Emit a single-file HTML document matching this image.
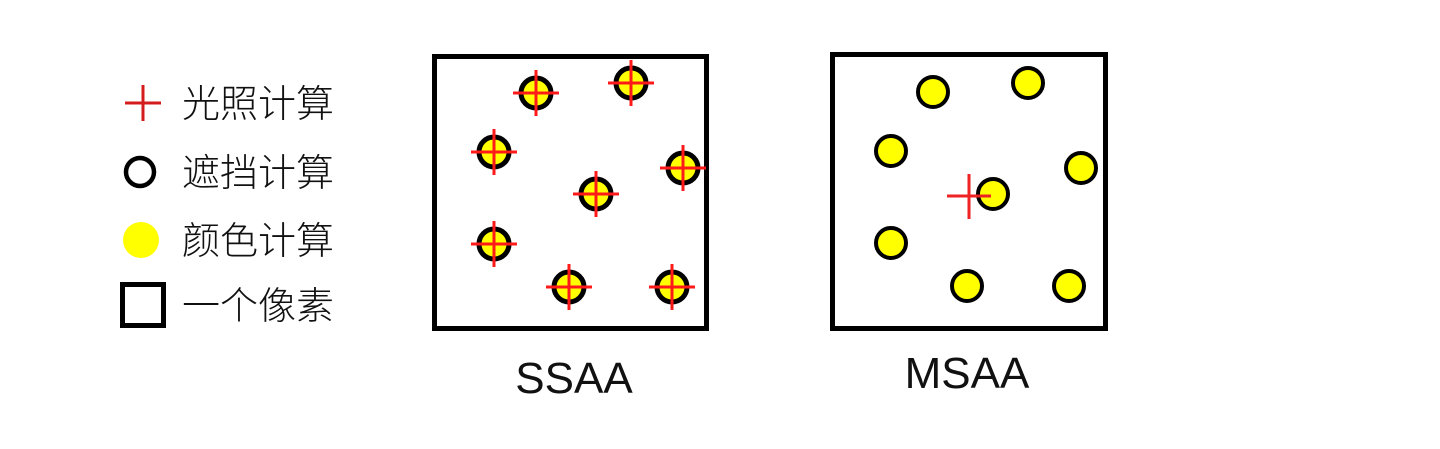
<!DOCTYPE html>
<html><head><meta charset="utf-8"><style>
html,body{margin:0;padding:0;background:#fff;}
svg{display:block}
text{font-family:"Liberation Sans","Noto Sans CJK SC",sans-serif;fill:#111}
</style></head><body>
<svg width="1440" height="449" viewBox="0 0 1440 449" xmlns="http://www.w3.org/2000/svg">
<g stroke="#d41c1c" stroke-width="3"><line x1="125" y1="103" x2="161" y2="103"/><line x1="143" y1="85" x2="143" y2="121"/></g>
<circle cx="140" cy="172" r="14" fill="none" stroke="#000" stroke-width="4.5"/>
<circle cx="141" cy="240" r="18" fill="#ffff00"/>
<rect x="122.5" y="284.5" width="41" height="41" fill="none" stroke="#000" stroke-width="5"/>
<g font-size="38" font-weight="300">
<text x="182" y="117">光照计算</text>
<text x="182" y="186">遮挡计算</text>
<text x="182" y="254">颜色计算</text>
<text x="182" y="319">一个像素</text>
</g>
<rect x="434.5" y="56.5" width="272" height="272" fill="none" stroke="#000" stroke-width="5"/>
<g fill="#ffff00" stroke="#000" stroke-width="5">
<circle cx="536" cy="93" r="15"/><circle cx="631" cy="83" r="15"/><circle cx="494" cy="152" r="15"/><circle cx="683" cy="168" r="15"/><circle cx="596" cy="194" r="15"/><circle cx="494" cy="244" r="15"/><circle cx="569" cy="287" r="15"/><circle cx="672" cy="287" r="15"/>
</g>
<g stroke="#ff1a1a" stroke-width="3">
<path d="M513 93h46M536 70v46M608 83h46M631 60v46M471 152h46M494 129v46M660 168h46M683 145v46M573 194h46M596 171v46M471 244h46M494 221v46M546 287h46M569 264v46M649 287h46M672 264v46"/>
</g>
<text x="574" y="393" font-size="44" text-anchor="middle">SSAA</text>
<rect x="832.5" y="54.5" width="273" height="274" fill="none" stroke="#000" stroke-width="5"/>
<g fill="#ffff00" stroke="#000" stroke-width="4">
<circle cx="933" cy="92" r="15"/><circle cx="1028" cy="83" r="15"/><circle cx="891" cy="151" r="15"/><circle cx="1081" cy="168" r="15"/><circle cx="993" cy="194" r="15"/><circle cx="891" cy="243" r="15"/><circle cx="967" cy="286" r="15"/><circle cx="1069" cy="286" r="15"/>
</g>
<g stroke="#ee2222" stroke-width="3"><path d="M947 196h44M969 174v45"/></g>
<text x="967" y="388" font-size="44" text-anchor="middle">MSAA</text>
</svg>
</body></html>
